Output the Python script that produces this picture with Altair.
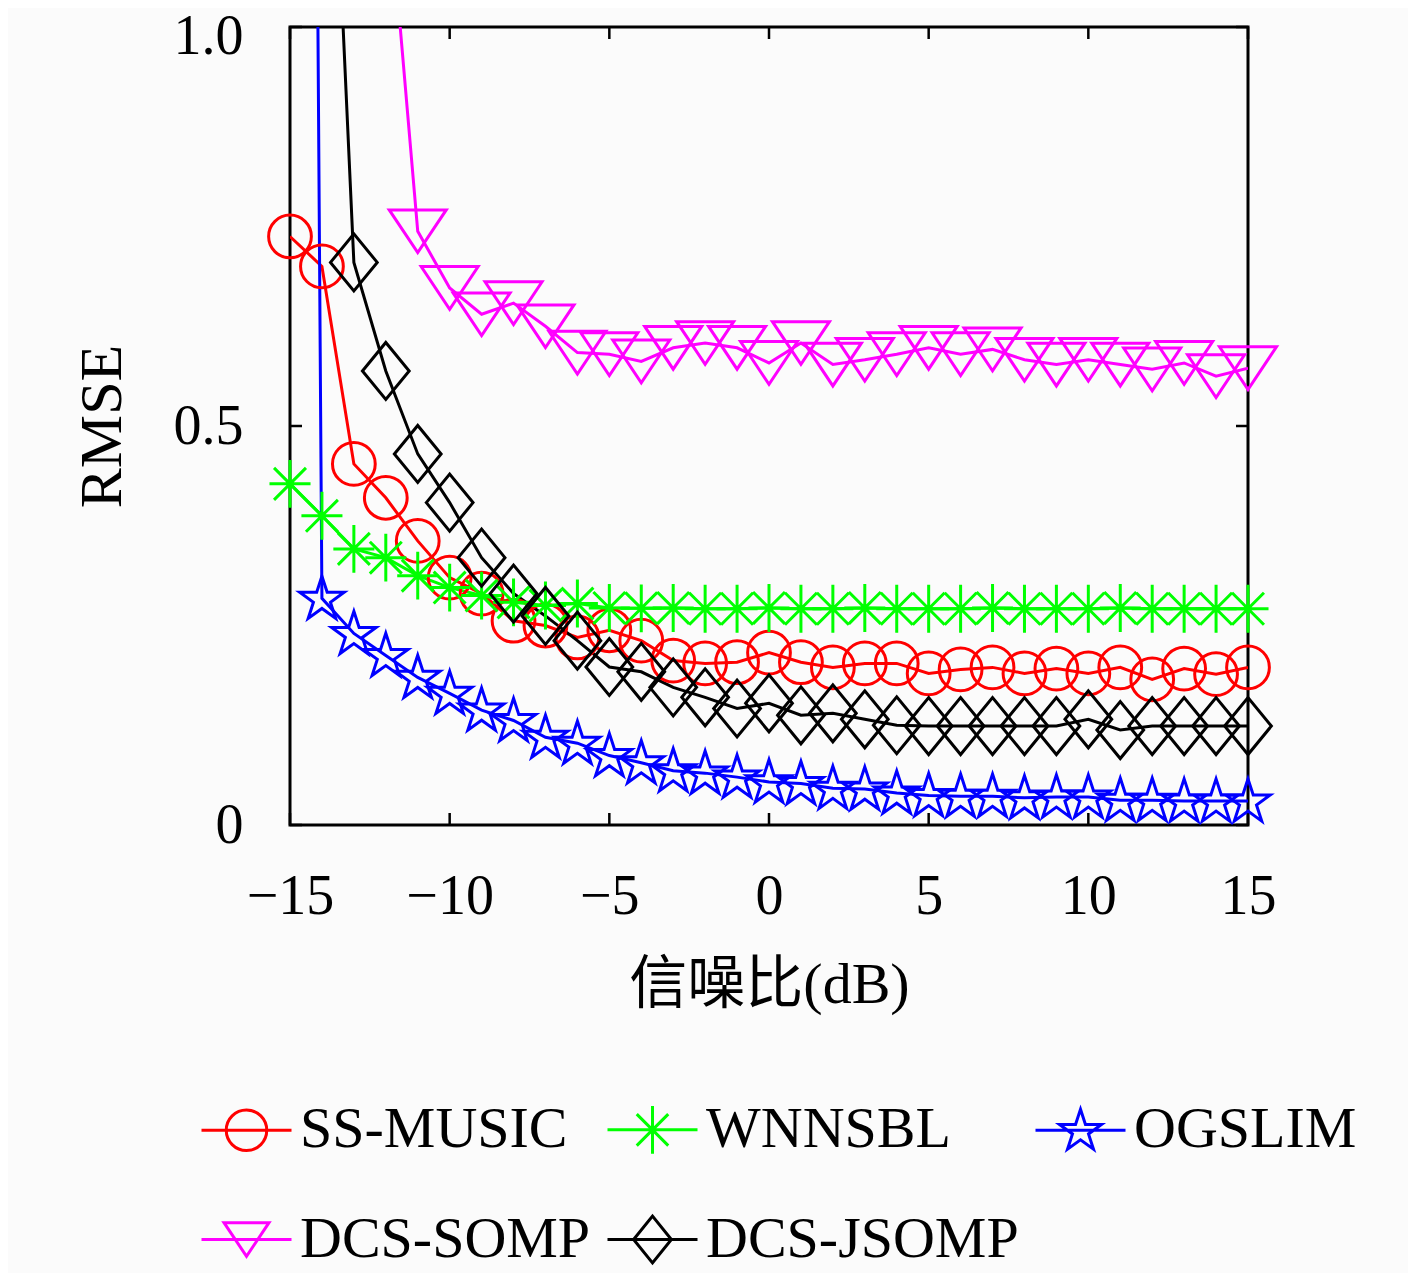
import math
import altair as alt
import pandas as pd

# ---------------- data ----------------
snr = list(range(-15, 16))
names = ["SS-MUSIC", "WNNSBL", "OGSLIM", "DCS-SOMP", "DCS-JSOMP"]
colors = ["#ff0000", "#00ff00", "#0000ff", "#ff00ff", "#000000"]

ss_music = [0.7375, 0.700, 0.4525, 0.410, 0.356, 0.310, 0.290, 0.256, 0.250, 0.235,
            0.244, 0.231, 0.206, 0.2025, 0.204, 0.216, 0.204, 0.1975, 0.2025, 0.2025,
            0.190, 0.195, 0.1975, 0.190, 0.196, 0.190, 0.1975, 0.1825, 0.196, 0.189, 0.1975]
wnnsbl = [0.4275, 0.3875, 0.346, 0.335, 0.3125, 0.2975, 0.2875, 0.279, 0.275, 0.2775,
          0.272, 0.2715, 0.272, 0.271, 0.271, 0.272, 0.271, 0.271, 0.272, 0.271,
          0.271, 0.271, 0.272, 0.271, 0.271, 0.271, 0.272, 0.271, 0.271, 0.271, 0.271]
ogslim = [6.0, 0.284, 0.240, 0.2125, 0.185, 0.165, 0.144, 0.131, 0.110, 0.1025,
          0.087, 0.078, 0.068, 0.065, 0.060, 0.054, 0.052, 0.046, 0.045, 0.040,
          0.037, 0.036, 0.036, 0.034, 0.035, 0.035, 0.031, 0.031, 0.030, 0.030, 0.030]
dcs_somp = [2.4, 2.0, 1.6, 1.21, 0.744, 0.673, 0.640, 0.654, 0.625, 0.592,
            0.590, 0.581, 0.598, 0.604, 0.598, 0.579, 0.604, 0.577, 0.583, 0.590,
            0.598, 0.590, 0.596, 0.583, 0.577, 0.583, 0.577, 0.571, 0.579, 0.5625, 0.5725]
dcs_jsomp = [2.5, 1.58, 0.705, 0.569, 0.465, 0.404, 0.335, 0.290, 0.262, 0.231,
             0.198, 0.192, 0.1725, 0.160, 0.146, 0.1525, 0.1375, 0.140, 0.1325, 0.125,
             0.124, 0.124, 0.124, 0.124, 0.124, 0.1325, 0.119, 0.124, 0.124, 0.124, 0.124]

x_ticks = [-15, -10, -5, 0, 5, 10, 15]
y_ticks = [0, 0.5, 1.0]

series_values = [ss_music, wnnsbl, ogslim, dcs_somp, dcs_jsomp]
rows = []
for k, (name, vals) in enumerate(zip(names, series_values)):
    for x, v in zip(snr, vals):
        rows.append({"snr": x, "series": name, "rmse": v, "k": k})
df = pd.DataFrame(rows)
df_xt = pd.DataFrame({"snr": x_ticks})
df_yt = pd.DataFrame({"rmse": y_ticks})

# ---------------- marker shapes ----------------
def fmt(v):
    return f"{v:.3f}"

def circle_path(r):
    return f"M{fmt(r)},0A{fmt(r)},{fmt(r)},0,1,1,{fmt(-r)},0A{fmt(r)},{fmt(r)},0,1,1,{fmt(r)},0Z"

def asterisk_path(v, h, d):
    return (f"M0,{fmt(-v)}L0,{fmt(v)}M{fmt(-h)},0L{fmt(h)},0"
            f"M{fmt(-d)},{fmt(-d)}L{fmt(d)},{fmt(d)}M{fmt(-d)},{fmt(d)}L{fmt(d)},{fmt(-d)}")

def star_path(R):
    pts = []
    for i in range(10):
        ang = math.radians(-90 + 36 * i)
        rr = R if i % 2 == 0 else R * 0.382
        pts.append((rr * math.cos(ang), rr * math.sin(ang) + R * 0.05))
    return "M" + "L".join(f"{fmt(a)},{fmt(b)}" for a, b in pts) + "Z"

def tri_path(w, h):
    return f"M{fmt(-w)},{fmt(-h)}L{fmt(w)},{fmt(-h)}L0,{fmt(h)}Z"

def diamond_path(w, h):
    return f"M{fmt(-w)},0L0,{fmt(-h)}L{fmt(w)},0L0,{fmt(h)}Z"

# plot markers: unit = sqrt(size)/2 px, size 3249 -> 28.5 px per unit
MARK_SIZE = 3249
plot_shapes = [
    circle_path(0.75),
    asterisk_path(0.84, 0.72, 0.56),
    star_path(0.82),
    tri_path(1.0, 0.75),
    diamond_path(0.82, 1.0),
]
# legend symbols: size 8100 -> 45 px per unit, stub line spans +-1
STUB = "M-1,0L1,0"
legend_shapes = [
    STUB + circle_path(0.45),
    STUB + asterisk_path(0.53, 0.45, 0.35),
    STUB + star_path(0.49),
    STUB + tri_path(0.5, 0.375),
    STUB + diamond_path(0.42, 0.52),
]

FONT = "'Liberation Serif', 'Noto Sans CJK SC'"
W, H = 958, 798

xscale = alt.Scale(domain=[-15, 15], nice=False, zero=False)
yscale = alt.Scale(domain=[0, 1], nice=False, zero=False)

x_axis = alt.Axis(values=x_ticks, title="信噪比(dB)", grid=False, ticks=False,
                  domain=False, labelFont=FONT, labelFontSize=56, labelColor="black",
                  labelPadding=44, labelFlush=False, labelOverlap=False,
                  titleFont=FONT, titleFontSize=58,
                  titleFontWeight="normal", titleColor="black", titlePadding=32,
                  labelExpr="replace(format(datum.value, 'd'), '-', '\u2212')")
y_axis = alt.Axis(values=y_ticks, title="RMSE", grid=False, ticks=False,
                  domain=False, labelFont=FONT, labelFontSize=56, labelColor="black",
                  labelPadding=47, labelFlush=False, labelOverlap=False,
                  labelOffset={"condition": {"test": "datum.value == 1", "value": 9}, "value": 0},
                  titleFont=FONT, titleFontSize=60,
                  titleFontWeight="normal", titleColor="black", titlePadding=40,
                  labelExpr="datum.value == 0 ? '0' : format(datum.value, '.1f')")

X = alt.X("snr:Q", scale=xscale, axis=x_axis, title="信噪比(dB)")
Y = alt.Y("rmse:Q", scale=yscale, axis=y_axis, title="RMSE")

lines = alt.Chart(df).mark_line(clip=True, strokeWidth=3).encode(
    x=X, y=Y,
    color=alt.Color("series:N", scale=alt.Scale(domain=names, range=colors), legend=None),
    detail="series:N",
)

points = alt.Chart(df).transform_filter("datum.rmse <= 1").mark_point(
    filled=False, strokeWidth=3, size=MARK_SIZE, opacity=1, clip=False
).encode(
    x=X, y=Y,
    color=alt.Color("series:N", scale=alt.Scale(domain=names, range=colors), legend=None),
    shape=alt.Shape("series:N", scale=alt.Scale(domain=names, range=plot_shapes), legend=None),
    order=alt.Order("k:Q"),
)

leg = alt.Legend(title=None, orient="none", legendX=-90, legendY=1056, columns=3,
                 direction="horizontal",
                 symbolSize=8100, symbolStrokeWidth=3, labelFont=FONT, labelFontSize=58,
                 labelColor="black", labelOffset=7, labelLimit=0, columnPadding=10,
                 rowPadding=33, padding=0)

legend_layer = alt.Chart(df).transform_filter("false").mark_point(
    filled=False, strokeWidth=3, opacity=1
).encode(
    x=X, y=Y,
    color=alt.Color("series:N", scale=alt.Scale(domain=names, range=colors), legend=leg),
    shape=alt.Shape("series:N", scale=alt.Scale(domain=names, range=legend_shapes), legend=leg),
)

TICK = 12
tick_bottom = alt.Chart(df_xt).mark_rule(color="black", strokeWidth=2.5).encode(
    x=X, y=alt.value(H), y2=alt.value(H - TICK))
tick_top = alt.Chart(df_xt).mark_rule(color="black", strokeWidth=2.5).encode(
    x=X, y=alt.value(0), y2=alt.value(TICK))
tick_left = alt.Chart(df_yt).mark_rule(color="black", strokeWidth=2.5).encode(
    y=Y, x=alt.value(0), x2=alt.value(TICK))
tick_right = alt.Chart(df_yt).mark_rule(color="black", strokeWidth=2.5).encode(
    y=Y, x=alt.value(W), x2=alt.value(W - TICK))

chart = alt.layer(
    lines, tick_bottom, tick_top, tick_left, tick_right, points, legend_layer
).resolve_scale(
    color="independent", shape="independent"
).properties(
    width=W, height=H,
    padding={"left": 282, "top": 19, "right": 160, "bottom": 448},
    autosize=alt.AutoSizeParams(type="none"),
    background="#fbfbfb",
).configure_view(
    stroke="black", strokeWidth=3
)

chart.save("out.html", embed_options={"renderer": "svg", "actions": False})
